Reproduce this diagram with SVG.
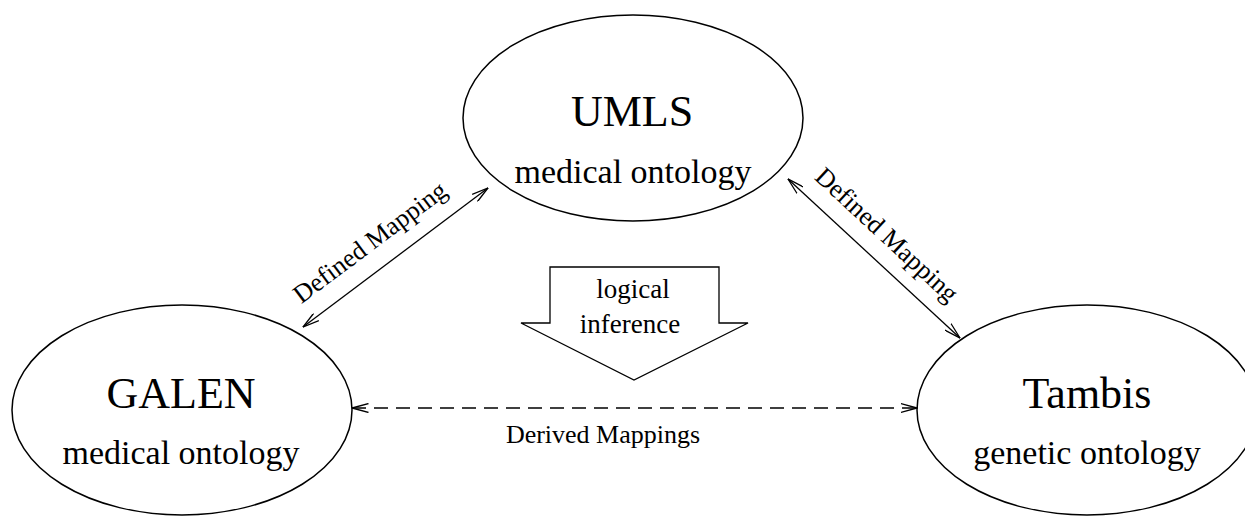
<svg xmlns="http://www.w3.org/2000/svg" width="1245" height="517" viewBox="0 0 1245 517">
<style>
.node{fill:#fff;stroke:#000;stroke-width:1.5}
.title{font-family:"Liberation Serif",serif;font-size:44px;text-anchor:middle;fill:#000}
.sub{font-family:"Liberation Serif",serif;font-size:34px;text-anchor:middle;fill:#000}
.lbl{font-family:"Liberation Serif",serif;font-size:26px;text-anchor:middle;fill:#000}
.edge{fill:none;stroke:#000;stroke-width:1.3}
</style>
<defs>
<marker id="open" markerUnits="userSpaceOnUse" viewBox="0 0 17 10" refX="16.5" refY="5" markerWidth="17" markerHeight="10" orient="auto-start-reverse">
<path d="M0,0.5 L16.5,5 L0,9.5" fill="none" stroke="#000" stroke-width="1.3"/>
</marker>
</defs>
<rect width="1245" height="517" fill="#fff"/>
<g id="umls">
<ellipse class="node" cx="633" cy="118" rx="170" ry="103"/>
<text class="title" x="632" y="126">UMLS</text>
<text class="sub" x="633" y="183">medical ontology</text>
</g>
<g id="galen">
<ellipse class="node" cx="182" cy="410" rx="170" ry="105"/>
<text class="title" x="181" y="408">GALEN</text>
<text class="sub" x="181" y="464">medical ontology</text>
</g>
<g id="tambis">
<ellipse class="node" cx="1087" cy="410" rx="170" ry="105"/>
<text class="title" x="1087" y="408">Tambis</text>
<text class="sub" x="1087" y="464">genetic ontology</text>
</g>
<g id="inference">
<polygon class="edge" points="550,267 719,267 719,323 748,323 634,380 521,323 550,323"/>
<text class="lbl" style="font-size:27px" x="633" y="298">logical</text>
<text class="lbl" style="font-size:27px" x="630" y="333">inference</text>
</g>
<g id="connectors">
<line class="edge" x1="303" y1="327" x2="488" y2="188" marker-start="url(#open)" marker-end="url(#open)"/>
<line class="edge" x1="788" y1="179" x2="960" y2="338" marker-start="url(#open)" marker-end="url(#open)"/>
<line class="edge" x1="352" y1="408" x2="917" y2="408" stroke-dasharray="14 8" marker-start="url(#open)" marker-end="url(#open)"/>
<text class="lbl" transform="translate(375,249) rotate(-36.8)">Defined Mapping</text>
<text class="lbl" transform="translate(881,241) rotate(42.8)">Defined Mapping</text>
<text class="lbl" x="603" y="443">Derived Mappings</text>
</g>
</svg>
